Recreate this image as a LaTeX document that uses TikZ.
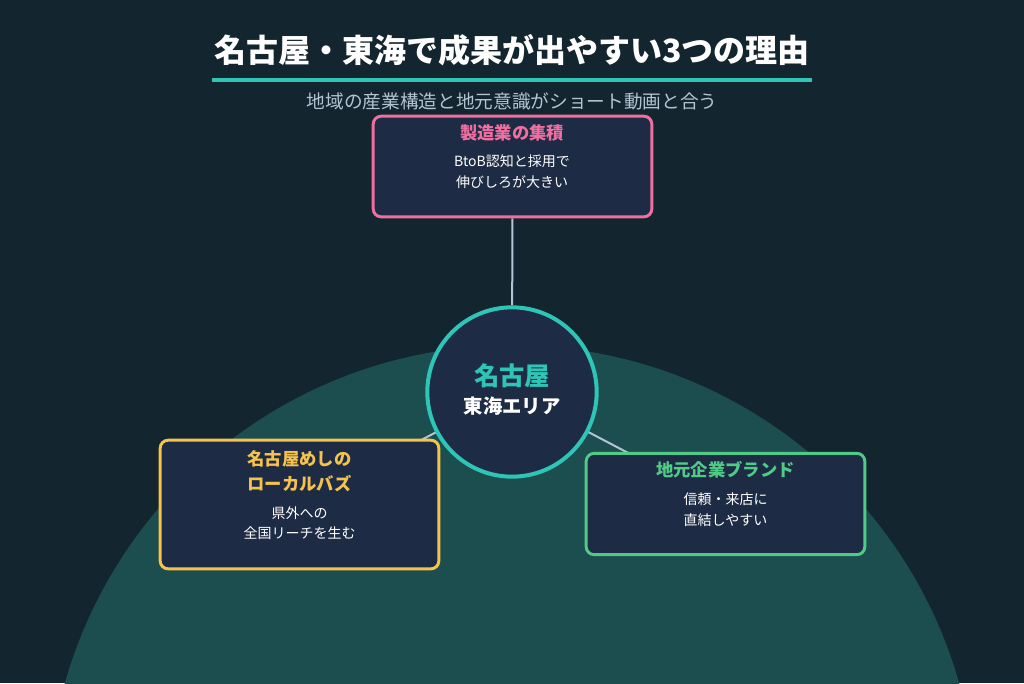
\documentclass[tikz,border=0pt]{standalone}
\usepackage{fontspec}
\setmainfont{Noto Sans CJK JP}
\usepackage{xcolor}
\definecolor{bgdark}{HTML}{132630}
\definecolor{hill}{HTML}{1C4E50}
\definecolor{navy}{HTML}{1E2B45}
\definecolor{teal}{HTML}{2EC4B6}
\definecolor{pinkc}{HTML}{EE6FA0}
\definecolor{goldc}{HTML}{F5C24C}
\definecolor{greenc}{HTML}{4FCB86}
\definecolor{subgray}{HTML}{B5C3D1}
\definecolor{linkgray}{HTML}{B3C5D5}
\usetikzlibrary{positioning,backgrounds}

\begin{document}
\begin{tikzpicture}[x=0.75pt, y=-0.75pt,
  card/.style={draw=#1, line width=2.2pt, rounded corners=6pt, fill=navy, minimum width=209pt, inner sep=0pt},
  cardtitle/.style={font=\bfseries\fontsize{13}{19}\selectfont, text=#1, align=center},
  cardbody/.style={font=\fontsize{10.5}{15.5}\selectfont, text=white, align=center},
  link/.style={draw=linkgray, line width=1.5pt}]
\useasboundingbox (0,0) rectangle (1024,683);
\node[font=\bfseries\fontsize{24}{28}\selectfont, text=white] (title) at (512,50) {名古屋・東海で成果が出やすい3つの理由};
\draw[teal, line width=2.4pt] (212,80) coordinate (ruleL) -- (812,80) coordinate (ruleR);
\node[font=\fontsize{14}{17}\selectfont, text=subgray] (sub) at (512,101) {地域の産業構造と地元意識がショート動画と合う};
\node[circle, draw=teal, line width=3pt, fill=navy, minimum size=127pt] (hub) at (512,392) {};
\node[font=\bfseries\fontsize{19}{22}\selectfont, text=teal] (hubA) at (512,376) {名古屋};
\node[font=\bfseries\fontsize{14.5}{17}\selectfont, text=white] (hubB) at (512,406) {東海エリア};
\node[card=pinkc, minimum height=75.5pt] (mfg) at (512.5,166.5) {};
\node[cardtitle=pinkc] (mfgT) at (512,133) {製造業の集積};
\node[cardbody] (mfgB) at (512,171.5) {BtoB認知と採用で\\伸びしろが大きい};
\node[card=goldc, minimum height=96.5pt] (food) at (299.5,504.5) {};
\node[cardtitle=goldc] (foodT) at (299.5,471.5) {名古屋めしの\\ローカルバズ};
\node[cardbody] (foodB) at (299.5,523) {県外への\\全国リーチを生む};
\node[card=greenc, minimum height=76pt] (brand) at (725.5,504) {};
\node[cardtitle=greenc] (brandT) at (725.5,470) {地元企業ブランド};
\node[cardbody] (brandB) at (725.5,509.5) {信頼・来店に\\直結しやすい};
\begin{scope}[on background layer]
\clip (0,0) rectangle (1024,683);
\fill[bgdark] (0,0) rectangle (1024,683);
\fill[hill] (512,810) circle (348.5pt);
\draw[link] (hub) -- (mfg);
\draw[link] (hub.center) -- (food.center);
\draw[link] (hub.center) -- (brand.center);
\end{scope}
\end{tikzpicture}
\end{document}
